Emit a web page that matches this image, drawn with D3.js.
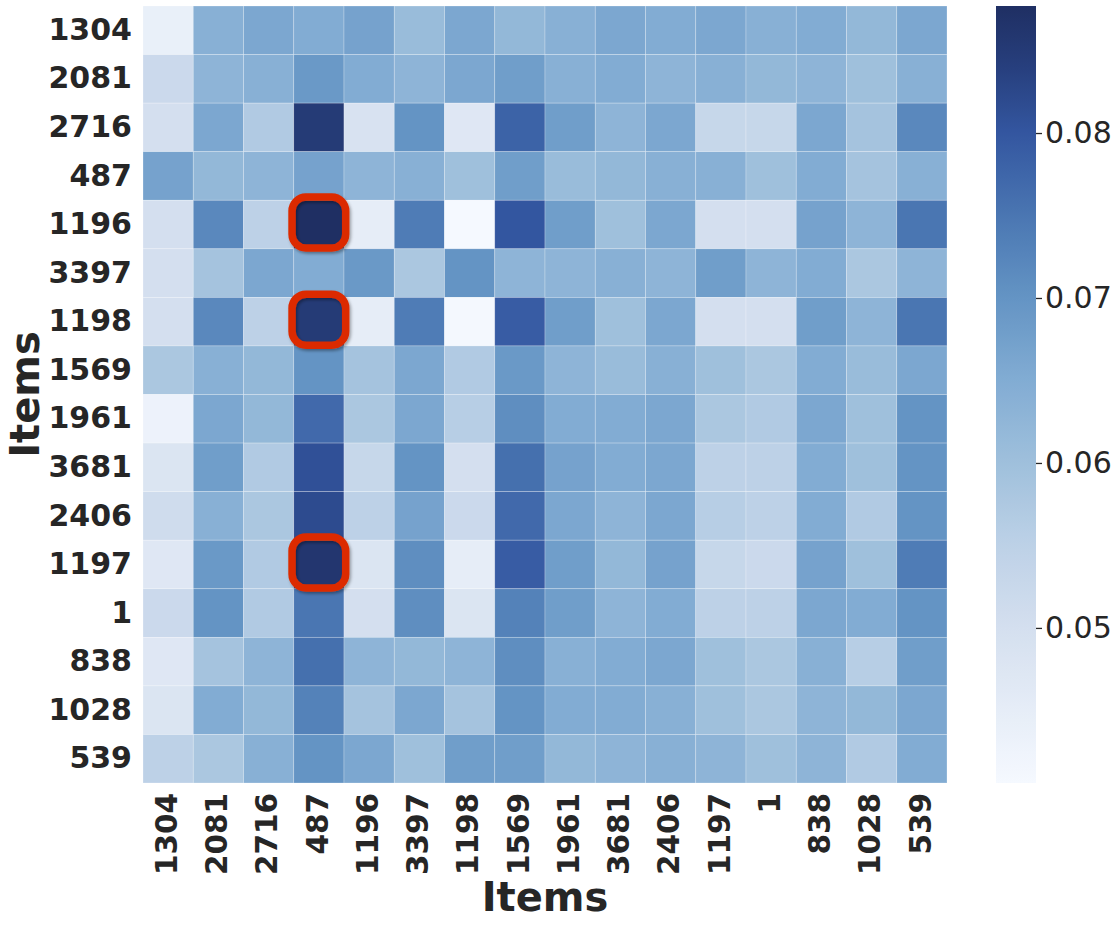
<!DOCTYPE html>
<html>
<head>
<meta charset="utf-8">
<script src="https://cdn.jsdelivr.net/npm/d3@7"></script>
<style>
  html, body { margin: 0; padding: 0; background: #fff; }
  svg { display: block; }
  text { font-family: "DejaVu Sans", sans-serif; fill: #262626; }
</style>
</head>
<body>
<div class="chart"></div>
<script>
const WIDTH = 1118;
const HEIGHT = 926;

// item ids, same order on both axes
const items = ['1304', '2081', '2716', '487', '1196', '3397', '1198', '1569',
  '1961', '3681', '2406', '1197', '1', '838', '1028', '539'];

// one row per y item, one value per x item
const scores = [
  [0.044, 0.064, 0.066, 0.065, 0.067, 0.061, 0.066, 0.062, 0.064, 0.066, 0.065, 0.066, 0.064, 0.065, 0.062, 0.066],
  [0.052, 0.063, 0.064, 0.069, 0.065, 0.063, 0.066, 0.068, 0.064, 0.065, 0.063, 0.064, 0.062, 0.063, 0.060, 0.064],
  [0.050, 0.066, 0.057, 0.085, 0.049, 0.070, 0.047, 0.078, 0.068, 0.063, 0.066, 0.053, 0.053, 0.066, 0.059, 0.072],
  [0.067, 0.062, 0.063, 0.067, 0.063, 0.064, 0.060, 0.068, 0.061, 0.062, 0.064, 0.064, 0.060, 0.065, 0.059, 0.064],
  [0.050, 0.072, 0.055, 0.0877, 0.045, 0.074, 0.0406, 0.080, 0.068, 0.060, 0.066, 0.050, 0.050, 0.067, 0.063, 0.075],
  [0.050, 0.059, 0.066, 0.065, 0.069, 0.058, 0.070, 0.063, 0.063, 0.064, 0.063, 0.068, 0.063, 0.065, 0.058, 0.063],
  [0.050, 0.072, 0.055, 0.085, 0.045, 0.074, 0.041, 0.079, 0.068, 0.060, 0.066, 0.050, 0.050, 0.068, 0.063, 0.075],
  [0.058, 0.064, 0.062, 0.070, 0.059, 0.066, 0.057, 0.069, 0.063, 0.061, 0.064, 0.060, 0.058, 0.065, 0.061, 0.066],
  [0.043, 0.066, 0.062, 0.077, 0.058, 0.066, 0.056, 0.071, 0.065, 0.065, 0.066, 0.058, 0.057, 0.066, 0.060, 0.070],
  [0.048, 0.068, 0.057, 0.081, 0.053, 0.070, 0.050, 0.076, 0.067, 0.065, 0.066, 0.055, 0.055, 0.065, 0.060, 0.070],
  [0.051, 0.064, 0.058, 0.082, 0.055, 0.067, 0.052, 0.077, 0.066, 0.063, 0.066, 0.056, 0.055, 0.065, 0.057, 0.070],
  [0.047, 0.069, 0.057, 0.086, 0.048, 0.071, 0.045, 0.079, 0.068, 0.062, 0.067, 0.053, 0.052, 0.067, 0.060, 0.074],
  [0.052, 0.070, 0.057, 0.075, 0.050, 0.071, 0.048, 0.073, 0.068, 0.063, 0.065, 0.055, 0.055, 0.066, 0.065, 0.070],
  [0.047, 0.059, 0.063, 0.076, 0.063, 0.062, 0.063, 0.071, 0.064, 0.065, 0.066, 0.060, 0.058, 0.064, 0.056, 0.068],
  [0.048, 0.065, 0.062, 0.073, 0.059, 0.066, 0.059, 0.070, 0.065, 0.065, 0.064, 0.060, 0.058, 0.063, 0.062, 0.066],
  [0.055, 0.058, 0.064, 0.070, 0.066, 0.060, 0.068, 0.068, 0.062, 0.063, 0.064, 0.063, 0.060, 0.063, 0.057, 0.065],
];

// cells boxed in red: [y item, x item]
const highlighted = [['1196', '487'], ['1198', '487'], ['1197', '487']];

const cbarTicks = [0.05, 0.06, 0.07, 0.08];

// colormap stops (value -> colour)
const cmapValues = [0.0406, 0.045, 0.050, 0.055, 0.060, 0.065, 0.070, 0.075, 0.080, 0.084, 0.0877];
const cmapColors = ['#f5f9ff', '#e6edf7', '#d4dfef', '#bdd1e7', '#9fc0dc', '#82acd3',
  '#6494c4', '#4a76b2', '#3356a0', '#273f7d', '#1f2f63'];

const GRID = { left: 143, right: 947, top: 6, bottom: 783 };
const CBAR = { left: 996, right: 1036 };

const svg = d3.select('.chart')
  .append('svg')
  .attr('width', WIDTH)
  .attr('height', HEIGHT);

const defs = svg.append('defs');
defs.append('filter')
  .attr('id', 'shadow')
  .attr('x', '-30%').attr('y', '-30%')
  .attr('width', '160%').attr('height', '160%')
  .append('feDropShadow')
  .attr('dx', 1.5)
  .attr('dy', 2)
  .attr('stdDeviation', 1.5)
  .attr('flood-color', '#000')
  .attr('flood-opacity', 0.35);

const x = d3.scaleBand().domain(items).range([GRID.left, GRID.right]);
const y = d3.scaleBand().domain(items).range([GRID.top, GRID.bottom]);

const flat = [];
scores.forEach((row, i) => {
  row.forEach((v, j) => flat.push({ row: items[i], col: items[j], value: v }));
});

const extent = d3.extent(flat, (d) => d.value);
const color = d3.scaleLinear()
  .domain(cmapValues)
  .range(cmapColors)
  .interpolate(d3.interpolateRgb)
  .clamp(true);

// heatmap cells
svg.append('g')
  .selectAll('rect')
  .data(flat)
  .enter()
  .append('rect')
  .attr('x', (d) => x(d.col))
  .attr('y', (d) => y(d.row))
  .attr('width', x.bandwidth())
  .attr('height', y.bandwidth())
  .attr('fill', (d) => color(d.value))
  .attr('stroke', 'rgba(255,255,255,0.35)')
  .attr('stroke-width', 0.7);

// red boxes
svg.append('g')
  .selectAll('rect')
  .data(highlighted)
  .enter()
  .append('rect')
  .attr('x', (d) => x(d[1]) - 1.7)
  .attr('y', (d) => y(d[0]) - 3.2)
  .attr('width', x.bandwidth() + 3.4)
  .attr('height', y.bandwidth() + 2.4)
  .attr('rx', 14)
  .attr('ry', 14)
  .attr('fill', 'none')
  .attr('stroke', '#dc2c02')
  .attr('stroke-width', 7.5)
  .attr('filter', 'url(#shadow)');

// y tick labels
svg.append('g')
  .selectAll('text')
  .data(items)
  .enter()
  .append('text')
  .attr('x', GRID.left - 11)
  .attr('y', (d) => y(d) + y.bandwidth() / 2)
  .attr('dy', '0.32em')
  .style('text-anchor', 'end')
  .style('font-weight', 'bold')
  .style('font-size', '30px')
  .text((d) => d);

// x tick labels
svg.append('g')
  .selectAll('text')
  .data(items)
  .enter()
  .append('text')
  .attr('transform', (d) => `translate(${x(d) + x.bandwidth() / 2}, ${GRID.bottom + 10}) rotate(-90)`)
  .attr('dy', '0.3em')
  .style('text-anchor', 'end')
  .style('font-weight', 'bold')
  .style('font-size', '29.5px')
  .text((d) => d);

// axis titles
svg.append('text')
  .attr('x', (GRID.left + GRID.right) / 2)
  .attr('y', 911)
  .style('text-anchor', 'middle')
  .style('font-weight', 'bold')
  .style('font-size', '40px')
  .text('Items');

svg.append('text')
  .attr('transform', `translate(39, ${(GRID.top + GRID.bottom) / 2}) rotate(-90)`)
  .style('text-anchor', 'middle')
  .style('font-weight', 'bold')
  .style('font-size', '40px')
  .text('Items');

// colorbar
const cbarScale = d3.scaleLinear().domain(extent).range([GRID.bottom, GRID.top]);
const grad = defs.append('linearGradient')
  .attr('id', 'cbar')
  .attr('x1', 0).attr('y1', 1)
  .attr('x2', 0).attr('y2', 0);
d3.range(0, 1.0001, 0.02).forEach((t) => {
  grad.append('stop')
    .attr('offset', t)
    .attr('stop-color', color(extent[0] + t * (extent[1] - extent[0])));
});

svg.append('rect')
  .attr('x', CBAR.left)
  .attr('y', GRID.top)
  .attr('width', CBAR.right - CBAR.left)
  .attr('height', GRID.bottom - GRID.top)
  .attr('fill', 'url(#cbar)');

const cbarAxis = d3.axisRight(cbarScale)
  .tickValues(cbarTicks)
  .tickFormat(d3.format('.2f'))
  .tickSize(6)
  .tickPadding(3);

const cbarG = svg.append('g')
  .attr('transform', `translate(${CBAR.right}, 0)`)
  .call(cbarAxis);
cbarG.select('.domain').remove();
cbarG.selectAll('line').attr('stroke', '#262626').attr('stroke-width', 1.3);
cbarG.selectAll('text')
  .attr('fill', '#262626')
  .style('font-family', '"DejaVu Sans", sans-serif')
  .style('font-size', '30px');
</script>
</body>
</html>
